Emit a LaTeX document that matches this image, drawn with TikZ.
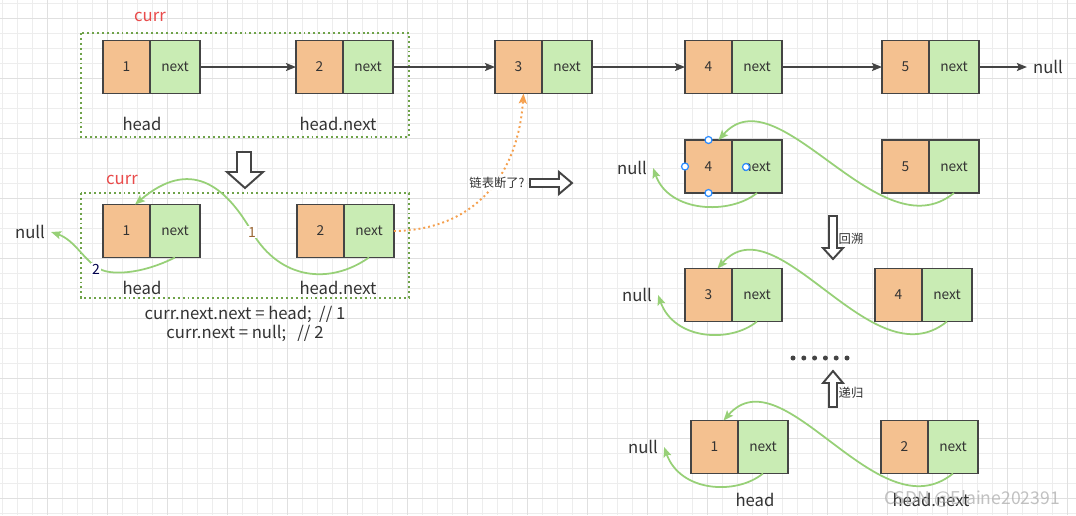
\documentclass[tikz,border=0pt]{standalone}
\usepackage{fontspec}
\setmainfont{Noto Sans CJK SC}
\usetikzlibrary{positioning,arrows.meta}
\definecolor{valc}{HTML}{F4C190}
\definecolor{nxtc}{HTML}{C9ECB4}
\definecolor{linec}{HTML}{444444}
\definecolor{textc}{HTML}{333333}
\definecolor{backc}{HTML}{97D077}
\definecolor{boxc}{HTML}{6FA34A}
\definecolor{currc}{HTML}{E94B4B}
\definecolor{brkc}{HTML}{F5A04E}
\definecolor{handc}{HTML}{2B8CFF}
\begin{document}
\begin{tikzpicture}[x=0.02cm,y=-0.02cm,
	val/.style={draw=linec,fill=valc,line width=1.1pt,outer sep=0pt,minimum width=0.94cm,minimum height=1.06cm,anchor=west,text=textc,font=\fontsize{7.8}{9}\selectfont},
	nxt/.style={draw=linec,fill=nxtc,line width=1.1pt,outer sep=0pt,minimum width=1cm,minimum height=1.06cm,text=textc,font=\fontsize{7.8}{9}\selectfont},
	txt/.style={text=textc,font=\fontsize{9.5}{10.5}\selectfont},
	currtxt/.style={text=currc,font=\fontsize{9.5}{11}\selectfont},
	small/.style={text=textc,fill=white,inner sep=1pt,font=\fontsize{7}{8}\selectfont},
	link/.style={draw=linec,line width=0.85pt,-{Stealth[length=0.2cm,width=0.16cm,inset=0.04cm]}},
	back/.style={draw=backc,line width=1pt,-{Stealth[length=0.2cm,width=0.16cm,inset=0.04cm]}},
	block/.style={draw=linec,fill=white,line width=1.1pt,line join=miter},
	handle/.style={draw=handc,fill=white,line width=0.7pt}]
	\useasboundingbox (0,0) rectangle (1076,515);
	\fill[white] (0,0) rectangle (1076,515);
	% grid
	\foreach \x in {2.3,17.3,...,1076} \draw[line width=0.5pt,color=black!7] (\x,0) -- (\x,515);
	\foreach \y in {3.3,18.3,...,515} \draw[line width=0.5pt,color=black!7] (0,\y) -- (1076,\y);
	\foreach \x in {47.3,107.3,...,1076} \draw[line width=0.5pt,color=black!12] (\x,0) -- (\x,515);
	\foreach \y in {18.3,78.3,...,515} \draw[line width=0.5pt,color=black!12] (0,\y) -- (1076,\y);

	% top list
	\draw[boxc,line width=1.1pt,dash pattern=on 1.1pt off 1.7pt] (81,33) rectangle (409,137);
	\node[currtxt] (curra) at (150,17) {curr};
	\node[val] (t1) at (103,67) {1};
	\node[nxt,right=0pt of t1] (t1n) {next};
	\node[val] (t2) at (296,67) {2};
	\node[nxt,right=0pt of t2] (t2n) {next};
	\node[val] (t3) at (495,67) {3};
	\node[nxt,right=0pt of t3] (t3n) {next};
	\node[val] (t4) at (685,67) {4};
	\node[nxt,right=0pt of t4] (t4n) {next};
	\node[val] (t5) at (882,67) {5};
	\node[nxt,right=0pt of t5] (t5n) {next};
	\node[txt] (tnull) at (1048,67) {null};
	\node[txt] (thead) at (142,124) {head};
	\node[txt] (theadn) at (338,124) {head.next};
	\draw[link] (t1n) -- (t2);
	\draw[link] (t2n) -- (t3);
	\draw[link] (t3n) -- (t4);
	\draw[link] (t4n) -- (t5);
	\draw[link] (t5n) -- (tnull);

	% first step
	\draw[block] (237,152) -- (251,152) -- (251,172) -- (263,172) -- (245,188) -- (227,172) -- (237,172) -- cycle;
	\draw[boxc,line width=1.1pt,dash pattern=on 1.1pt off 1.7pt] (81,193) rectangle (409,298);
	\node[currtxt] (currb) at (122,180) {curr};
	\node[val] (m1) at (103,231) {1};
	\node[nxt,right=0pt of m1] (m1n) {next};
	\node[val] (m2) at (297,231) {2};
	\node[nxt,right=0pt of m2] (m2n) {next};
	\node[txt] (mnull) at (30,232) {null};
	\node[txt] (mhead) at (142,288) {head};
	\node[txt] (mheadn) at (338,288) {head.next};
	\node[txt,align=center] (code) at (245,324) {curr.next.next = head;\ \ // 1\\curr.next = null;\ \ \ // 2};
	\draw[back] (m2n.south) .. controls (330,285) and (280,280) .. (252,232) node[fill=white,inner sep=0.5pt,text=brown!80!black,font=\fontsize{8}{9}\selectfont]{1} .. controls (225,185) and (190,158) .. ([xshift=0.17cm]m1.north);
	\draw[back] (m1n.south) .. controls (140,275) and (110,275) .. (100,269) node[fill=white,inner sep=0.5pt,text=blue!30!black,font=\fontsize{8}{9}\selectfont,left=-1pt]{2} .. controls (85,262) and (75,240) .. (mnull.east);

	% broken?
	\draw[brkc,line width=1.1pt,dash pattern=on 1.1pt off 1.7pt,-{Stealth[length=0.2cm,width=0.16cm,inset=0.04cm]}] (m2n.east) .. controls (475,230) and (518,175) .. ([xshift=0.1cm]t3.south);
	\node[small] (brk) at (497,183) {链表断了?};
	\draw[block] (530,179) -- (559,179) -- (559,172) -- (572,183) -- (559,194) -- (559,187) -- (530,187) -- cycle;

	% recursion, 4 <- 5
	\node[val] (p4) at (685,166.5) {4};
	\node[nxt,right=0pt of p4] (p4n) {next};
	\node[val] (p5) at (882,166.5) {5};
	\node[nxt,right=0pt of p5] (p5n) {next};
	\node[txt] (pnull) at (632,168) {null};
	\draw[back] (p4n.south) .. controls +(-27,22) and +(16,45) .. (pnull.east);
	\draw[back] (p5n.south) .. controls +(-75,61) and +(60,-68) .. ([xshift=0.2cm]p4.north);
	\draw[handle] (p4.north) circle (0.07cm);
	\draw[handle] (p4.south) circle (0.07cm);
	\draw[handle] (p4.west) circle (0.07cm);
	\draw[handle] (746,167) circle (0.07cm);

	% backtrack
	\draw[block] (829,216) -- (837,216) -- (837,248) -- (843,248) -- (833,259) -- (823,248) -- (829,248) -- cycle;
	\node[small,fill=none] (bt) at (851,239) {回溯};

	% 3 <- 4
	\node[val] (q3) at (685,295) {3};
	\node[nxt,right=0pt of q3] (q3n) {next};
	\node[val] (q4) at (875,295) {4};
	\node[nxt,right=0pt of q4] (q4n) {next};
	\node[txt] (qnull) at (637,295) {null};
	\draw[back] (q3n.south) .. controls +(-27,22) and +(16,45) .. (qnull.east);
	\draw[back] (q4n.south) .. controls +(-75,61) and +(60,-68) .. ([xshift=0.18cm]q3.north);

	% dots
	\foreach \i in {0,...,5} \fill[linec] (793+\i*10.8,358) circle (0.05cm);

	% recursion
	\draw[block] (829,407) -- (837,407) -- (837,383) -- (843,383) -- (833,371) -- (823,383) -- (829,383) -- cycle;
	\node[small,fill=none] (rc) at (851,393) {递归};

	% 1 <- 2
	\node[val] (s1) at (691,447) {1};
	\node[nxt,right=0pt of s1] (s1n) {next};
	\node[val] (s2) at (881,447) {2};
	\node[nxt,right=0pt of s2] (s2n) {next};
	\node[txt] (snull) at (643,447) {null};
	\node[txt] (shead) at (755,500) {head};
	\node[txt] (sheadn) at (931,500) {head.next};
	\draw[back] (s1n.south) .. controls +(-27,22) and +(16,45) .. (snull.east);
	\draw[back] (s2n.south) .. controls +(-75,61) and +(60,-68) .. ([xshift=0.18cm]s1.north);

	\node[text=black!30,opacity=0.8,font=\fontsize{10}{12}\selectfont] (wm) at (972,499) {CSDN @Elaine202391};
\end{tikzpicture}
\end{document}
